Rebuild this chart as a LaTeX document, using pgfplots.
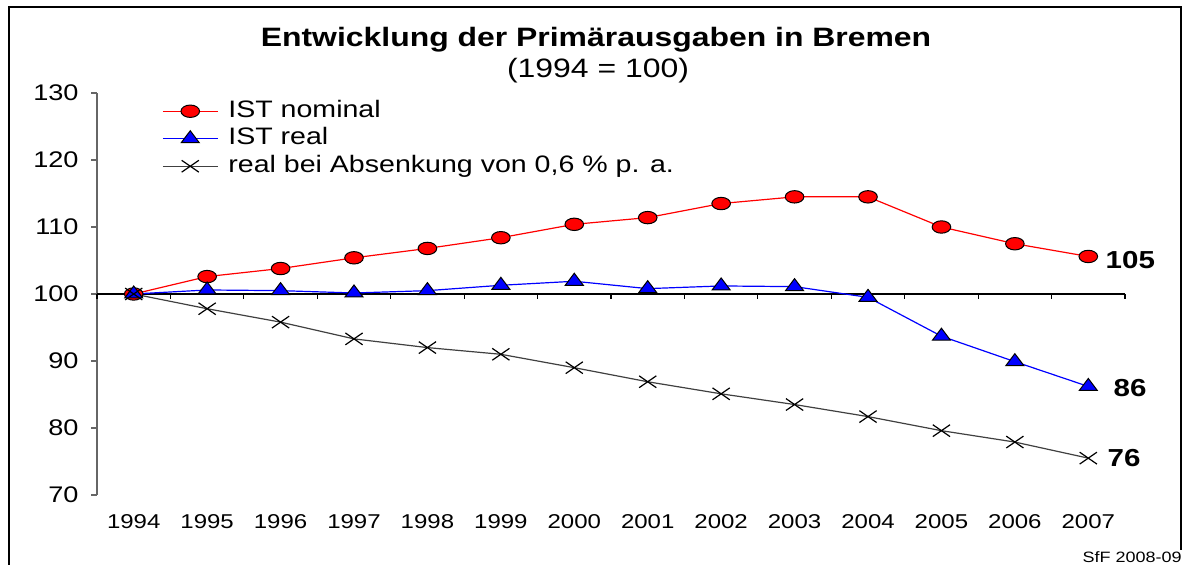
\documentclass[border=0pt]{standalone}
\usepackage{fontspec}
\setmainfont{Liberation Sans}[FakeStretch=1.2]
\usepackage{pgfplots}
\pgfplotsset{compat=1.18}

\begin{document}
\begin{tikzpicture}
\useasboundingbox (0,0) rectangle (591pt,282.5pt);
% frame (cut off at the bottom)
\draw[line width=1pt] (4.25pt,0) -- (4.25pt,279pt) -- (590.5pt,279pt) -- (590.5pt,7.5pt);

\node[font=\bfseries\fontsize{13.3}{15}\selectfont] at (298pt,262.5pt) {Entwicklung der Primärausgaben in Bremen};
\node[font=\fontsize{13.3}{15}\selectfont] at (299pt,247.3pt) {(1994 = 100)};
\node[anchor=south east, inner sep=0pt, font=\fontsize{7.5}{8}\selectfont] at (591pt,1pt) {SfF 2008-09};

\begin{axis}[
  at={(48.5pt,35pt)}, anchor=south west,
  scale only axis, width=514pt, height=201pt,
  xmin=-0.5, xmax=13.5, ymin=70, ymax=130,
  axis lines*=left,
  x axis line style={draw=none},
  y axis line style={gray!80!black, line width=0.6pt},
  xtick={0,...,13},
  xticklabels={1994,1995,1996,1997,1998,1999,2000,2001,2002,2003,2004,2005,2006,2007},
  major x tick style={draw=none},
  ytick={70,80,...,130},
  tick align=outside, major tick length=3pt,
  y tick style={gray!80!black, line width=0.6pt},
  /pgf/number format/assume math mode=true,
  xticklabel style={font=\fontsize{10}{11}\selectfont, yshift=-3pt},
  yticklabel style={font=\fontsize{11.3}{13}\selectfont, xshift=-2.7pt},
  clip=false,
  legend style={at={(0.063,0.983)}, anchor=north west, draw=none, fill=none,
    font=\fontsize{11.9}{13}\selectfont, inner sep=0pt,
    nodes={inner sep=0pt, text height=8.5pt, text depth=2.5pt},
    row sep=2.75pt, column sep=5pt},
  legend cell align=left,
  legend image code/.code={\draw[mark repeat=2, mark phase=2] plot coordinates {(0pt,0pt) (13.75pt,0pt) (27.5pt,0pt)};},
]
\draw[black, line width=0.6pt] (axis cs:-0.5,100) -- (axis cs:13.5,100);
\pgfplotsinvokeforeach{-0.5,0.5,...,13.5}{\draw[black, line width=0.6pt] (axis cs:#1,100) -- ([yshift=-2.5pt]axis cs:#1,100);}

\addplot[red, line width=0.6pt, mark=*, mark size=3.1pt,
  mark options={fill=red, draw=black, line width=0.5pt, xscale=1.5}]
  coordinates {(0,100) (1,102.6) (2,103.8) (3,105.4) (4,106.8) (5,108.4) (6,110.4)
    (7,111.4) (8,113.5) (9,114.5) (10,114.5) (11,110.0) (12,107.5) (13,105.6)};
\addlegendentry{IST nominal}
\addplot[blue, line width=0.6pt, mark=triangle*, mark size=4pt,
  mark options={fill=blue, draw=black, line width=0.5pt, xscale=1.3}]
  coordinates {(0,100) (1,100.6) (2,100.5) (3,100.15) (4,100.5) (5,101.3) (6,101.9)
    (7,100.8) (8,101.2) (9,101.1) (10,99.5) (11,93.7) (12,89.9) (13,86.2)};
\addlegendentry{IST real}
\addplot[black!75, line width=0.6pt, mark=x, mark size=4.2pt,
  mark options={draw=black, line width=0.6pt, xscale=1.45}]
  coordinates {(0,100) (1,97.8) (2,95.8) (3,93.3) (4,92.0) (5,91.0) (6,89.0)
    (7,86.9) (8,85.1) (9,83.5) (10,81.7) (11,79.6) (12,77.9) (13,75.5)};
\addlegendentry{real bei Absenkung von 0,6 \% p. a.}

\node[anchor=west, inner sep=0pt, xshift=8.5pt, font=\bfseries\fontsize{12.3}{14}\selectfont] at (axis cs:13,105.1) {105};
\node[anchor=west, inner sep=0pt, xshift=12.5pt, font=\bfseries\fontsize{12.3}{14}\selectfont] at (axis cs:13,86.0) {86};
\node[anchor=west, inner sep=0pt, xshift=9.5pt, font=\bfseries\fontsize{12.3}{14}\selectfont] at (axis cs:13,75.5) {76};
\end{axis}
\end{tikzpicture}
\end{document}
